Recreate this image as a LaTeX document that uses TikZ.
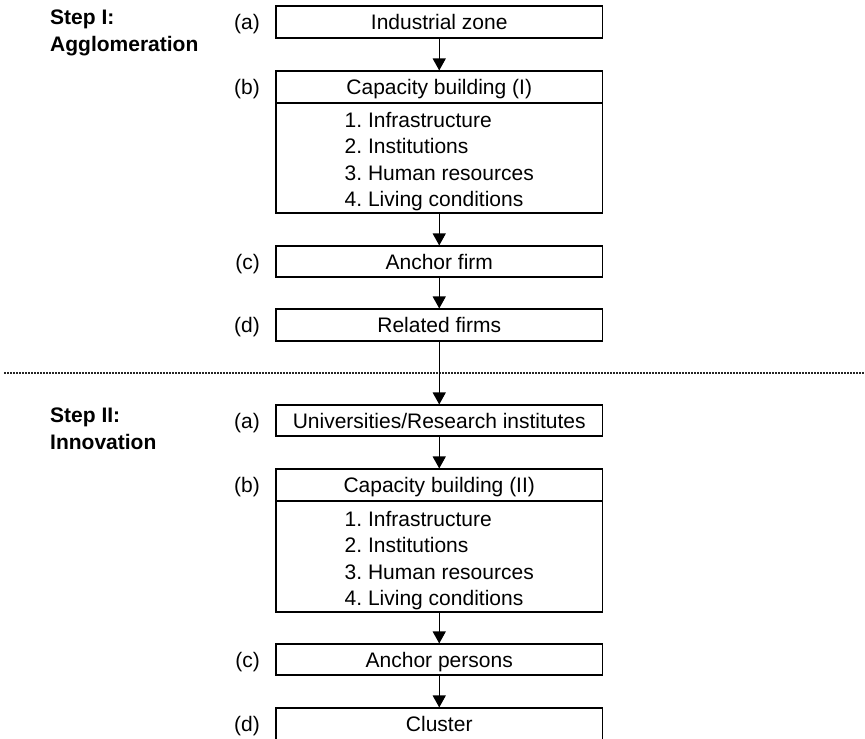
\documentclass[tikz,border=0pt]{standalone}
\usepackage{fontspec}
\setmainfont{Liberation Sans}
\usetikzlibrary{arrows.meta,calc}
\frenchspacing
\begin{document}
\begin{tikzpicture}[x=1pt,y=-1pt,
  txt/.style={font=\fontsize{21}{26.4}\selectfont},
  box/.style={txt, draw, line width=1.1pt, minimum width=326.5pt,
    inner sep=0pt, text height=15pt, text depth=0pt},
  bodybox/.style={draw, line width=1.1pt, minimum width=326.5pt, inner sep=0pt},
  itemlist/.style={txt, align=left, inner sep=0pt},
  letter/.style={txt, inner sep=0pt, text height=15pt, text depth=0pt, anchor=east},
  stepname/.style={font=\fontsize{21}{27}\selectfont\bfseries, align=left,
    inner sep=0pt, anchor=north west},
  arr/.style={line width=1.2pt, -{Triangle[width=13pt,length=12pt]}},
  sep/.style={line width=1.2pt, dash pattern=on 1.5pt off 1.5pt, black!85}
]
\useasboundingbox (0,0) rectangle (865,739);

% Step I: agglomeration
\node[stepname] (step1) at (50,9.5) {Step I:\\Agglomeration};

\node[box, minimum height=32pt] (a1) at (439.25,22) {Industrial zone};
\node[box, minimum height=32pt] (b1h) at (439.25,87) {Capacity building (I)};
\node[bodybox, minimum height=110pt] (b1) at (439.25,158) {};
\node[itemlist] (b1t) at ($(b1.center)+(0,3.7)$)
  {1. Infrastructure\\2. Institutions\\3. Human resources\\4. Living conditions};
\node[box, minimum height=31pt] (c1) at (439.25,261.5) {Anchor firm};
\node[box, minimum height=32pt] (d1) at (439.25,325) {Related firms};

\node[letter] (la1) at ($(a1.west)+(-15.5,0)$) {(a)};
\node[letter] (lb1) at ($(b1h.west)+(-15.5,0)$) {(b)};
\node[letter] (lc1) at ($(c1.west)+(-15.5,0)$) {(c)};
\node[letter] (ld1) at ($(d1.west)+(-15.5,0)$) {(d)};

% separator between the two steps
\coordinate (sepL) at (4,373);
\coordinate (sepR) at (865,373);
\draw[sep] (sepL) -- (sepR);

% Step II: innovation
\node[stepname] (step2) at (50,408) {Step II:\\Innovation};

\node[box, minimum height=31pt] (a2) at (439.25,420.5) {Universities/Research institutes};
\node[box, minimum height=32pt] (b2h) at (439.25,485) {Capacity building (II)};
\node[bodybox, minimum height=111pt] (b2) at (439.25,556.5) {};
\node[itemlist] (b2t) at ($(b2.center)+(0,4)$)
  {1. Infrastructure\\2. Institutions\\3. Human resources\\4. Living conditions};
\node[box, minimum height=31pt] (c2) at (439.25,659.5) {Anchor persons};
\node[box, minimum height=32pt] (d2) at (439.25,724) {Cluster};

\node[letter] (la2) at ($(a2.west)+(-15.5,0)$) {(a)};
\node[letter] (lb2) at ($(b2h.west)+(-15.5,0)$) {(b)};
\node[letter] (lc2) at ($(c2.west)+(-15.5,0)$) {(c)};
\node[letter] (ld2) at ($(d2.west)+(-15.5,0)$) {(d)};

% connectors
\draw[arr] (a1) -- (b1h);
\draw[arr] (b1) -- (c1);
\draw[arr] (c1) -- (d1);
\draw[arr] (d1) -- (a2);
\draw[arr] (a2) -- (b2h);
\draw[arr] (b2) -- (c2);
\draw[arr] (c2) -- (d2);
\end{tikzpicture}
\end{document}
